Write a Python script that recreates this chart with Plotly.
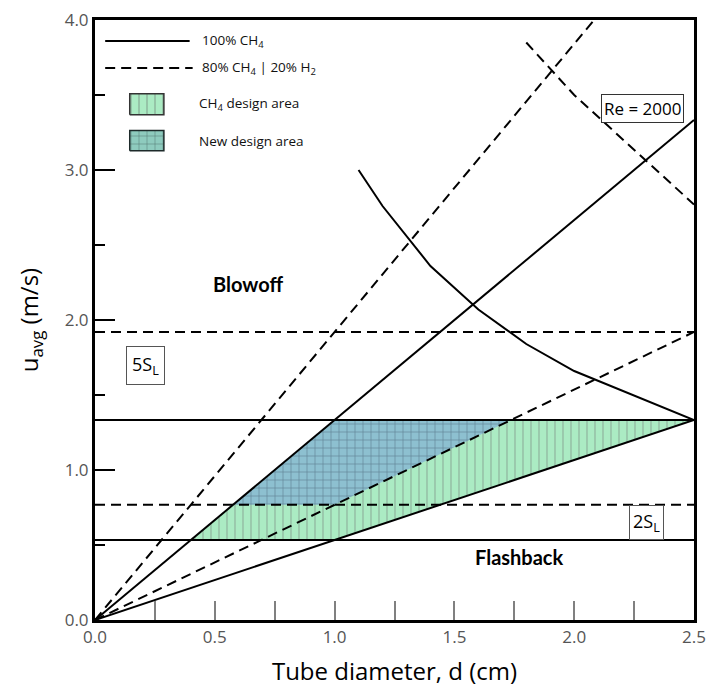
import plotly.graph_objects as go

# ---------------- data ----------------
# lines through the origin (tube diameter d [cm] vs mean velocity u [m/s])
ch4_steep_d = [0.0, 2.5]
ch4_steep_u = [0.0, 3.333]
ch4_shallow_d = [0.0, 2.5]
ch4_shallow_u = [0.0, 1.333]
mix_steep_d = [0.0, 2.083]
mix_steep_u = [0.0, 4.0]
mix_shallow_d = [0.0, 2.5]
mix_shallow_u = [0.0, 1.92]

# horizontal limits (5 S_L and 2 S_L)
ch4_5sl = 1.333
ch4_2sl = 0.533
mix_5sl = 1.92
mix_2sl = 0.768

# Re = 2000 curves
re_ch4_d = [1.1, 1.2, 1.4, 1.6, 1.8, 2.0, 2.5]
re_ch4_u = [3.0, 2.76, 2.36, 2.07, 1.84, 1.66, 1.333]
re_mix_d = [1.8, 2.0, 2.5]
re_mix_u = [3.85, 3.50, 2.77]

# design areas (polygons)
ch4_area_d = [0.4, 1.0, 2.5, 1.0, 0.4]
ch4_area_u = [0.533, 0.533, 1.333, 1.333, 0.533]
new_area_d = [0.576, 1.0, 1.736, 1.0, 0.576]
new_area_u = [0.768, 0.768, 1.333, 1.333, 0.768]

x_range = [0.0, 2.5]
y_range = [0.0, 4.0]
x_ticks = [0.0, 0.5, 1.0, 1.5, 2.0, 2.5]
x_tick_text = ["0.0", "0.5", "1.0", "1.5", "2.0", "2.5"]
y_ticks = [0.0, 1.0, 2.0, 3.0, 4.0]
y_tick_text = ["0.0", "1.0", "2.0", "3.0", "4.0"]

legend_labels = ["100% CH<sub>4</sub>", "80% CH<sub>4</sub> | 20% H<sub>2</sub>",
                 "CH<sub>4</sub> design area", "New design area"]

# ---------------- styles ----------------
GREEN = "#abebc3"
BLUE = "#8dc0d0"
TEAL = "#8ecbbe"
DASH = "10px,6px"
LW = 2

fig = go.Figure()

# design areas
fig.add_trace(go.Scatter(
    x=ch4_area_d, y=ch4_area_u, mode="lines", fill="toself",
    fillcolor=GREEN, line=dict(width=0),
    fillpattern=dict(shape="|", fgcolor="#6a6a6a", bgcolor=GREEN, size=8, solidity=0.13),
    hoverinfo="skip", showlegend=False))
fig.add_trace(go.Scatter(
    x=new_area_d, y=new_area_u, mode="lines", fill="toself",
    fillcolor=BLUE, line=dict(width=0),
    fillpattern=dict(shape="+", fgcolor="#262c44", bgcolor=BLUE, size=8, solidity=0.13),
    hoverinfo="skip", showlegend=False))

def add_line(x, y, dash=None):
    fig.add_trace(go.Scatter(x=x, y=y, mode="lines",
                             line=dict(color="black", width=LW, dash=dash),
                             hoverinfo="skip", showlegend=False))

# horizontal limits
add_line(x_range, [ch4_5sl, ch4_5sl])
add_line(x_range, [ch4_2sl, ch4_2sl])
add_line(x_range, [mix_5sl, mix_5sl], DASH)
add_line(x_range, [mix_2sl, mix_2sl], DASH)

# lines through origin
add_line(ch4_steep_d, ch4_steep_u)
add_line(ch4_shallow_d, ch4_shallow_u)
add_line(mix_steep_d, mix_steep_u, DASH)
add_line(mix_shallow_d, mix_shallow_u, DASH)

# Re = 2000 curves
add_line(re_ch4_d, re_ch4_u)
add_line(re_mix_d, re_mix_u, DASH)

# ---------------- manual legend on an overlay axis (0..1 frame) ----------------
lg = dict(xaxis="x2", yaxis="y2", hoverinfo="skip", showlegend=False)
fig.add_trace(go.Scatter(x=[0.017, 0.158], y=[0.965, 0.965], mode="lines",
                         line=dict(color="black", width=LW), **lg))
fig.add_trace(go.Scatter(x=[0.017, 0.163], y=[0.92, 0.92], mode="lines",
                         line=dict(color="black", width=LW, dash=DASH), **lg))
fig.add_trace(go.Scatter(x=[0.058, 0.115, 0.115, 0.058, 0.058],
                         y=[0.842, 0.842, 0.877, 0.877, 0.842],
                         mode="lines", fill="toself", fillcolor=GREEN,
                         line=dict(color="#333333", width=1.5),
                         fillpattern=dict(shape="|", fgcolor="#555555", bgcolor=GREEN,
                                          size=8, solidity=0.13), **lg))
fig.add_trace(go.Scatter(x=[0.058, 0.115, 0.115, 0.058, 0.058],
                         y=[0.782, 0.782, 0.816, 0.816, 0.782],
                         mode="lines", fill="toself", fillcolor=TEAL,
                         line=dict(color="#1d2a2a", width=1.5),
                         fillpattern=dict(shape="+", fgcolor="#1d2a2a", bgcolor=TEAL,
                                          size=8, solidity=0.13), **lg))

legend_pos = [(0.175, 0.965), (0.175, 0.92), (0.17, 0.86), (0.17, 0.798)]
annotations = []
for (lx, ly), txt in zip(legend_pos, legend_labels):
    annotations.append(dict(x=lx, y=ly, xref="x2", yref="y2", text=txt, showarrow=False,
                            xanchor="left", yanchor="middle",
                            font=dict(family="Open Sans", size=13.5, color="#111")))

# region labels
annotations += [
    dict(x=0.64, y=2.24, text="<b>Blowoff</b>", showarrow=False,
         font=dict(family="Lato", size=20, color="black")),
    dict(x=1.77, y=0.42, text="<b>Flashback</b>", showarrow=False,
         font=dict(family="Lato", size=20, color="black")),
    dict(x=0.21, y=1.70, text="5S<sub>L</sub>", showarrow=False,
         font=dict(family="Open Sans", size=18, color="black"),
         bordercolor="#555", borderwidth=1, borderpad=5, bgcolor="white"),
    dict(x=2.30, y=0.653, text="2S<sub>L</sub>", showarrow=False,
         font=dict(family="Open Sans", size=18, color="black"),
         bordercolor="#555", borderwidth=1, borderpad=3, bgcolor="white"),
    dict(x=2.283, y=3.413, text="Re = 2000", showarrow=False,
         font=dict(family="Open Sans", size=17, color="black"),
         bordercolor="#333", borderwidth=1, borderpad=2, bgcolor="white"),
]

fig.update_layout(
    width=707, height=692,
    margin=dict(l=95, r=13, t=20, b=72, autoexpand=False),
    paper_bgcolor="white", plot_bgcolor="white",
    showlegend=False,
    annotations=annotations,
    xaxis=dict(range=x_range, tickvals=x_ticks, ticktext=x_tick_text, automargin=False,
               ticks="inside", ticklen=19, tickwidth=2, tickcolor="#808080",
               minor=dict(dtick=0.25, ticks="inside", ticklen=19, tickwidth=2, tickcolor="#808080"),
               showline=True, linewidth=3, linecolor="black", mirror=True,
               showgrid=False, zeroline=False,
               tickfont=dict(family="Open Sans", size=17, color="#555"),
               title=dict(text="Tube diameter, d (cm)",
                          font=dict(family="Open Sans", size=24, color="black"), standoff=16)),
    yaxis=dict(range=y_range, tickvals=y_ticks, ticktext=y_tick_text, automargin=False,
               ticks="inside", ticklen=20, tickwidth=1.5, tickcolor="black",
               minor=dict(dtick=0.5, ticks="inside", ticklen=10, tickwidth=1.5, tickcolor="black"),
               showline=True, linewidth=3, linecolor="black", mirror=True,
               showgrid=False, zeroline=False,
               tickfont=dict(family="Open Sans", size=17, color="#555"),
               title=dict(text="u<sub>avg</sub> (m/s)",
                          font=dict(family="Open Sans", size=24, color="black"), standoff=20)),
    xaxis2=dict(overlaying="x", range=[0, 1], visible=False, fixedrange=True),
    yaxis2=dict(overlaying="y", range=[0, 1], visible=False, fixedrange=True),
)

fig.write_html("out.html")
